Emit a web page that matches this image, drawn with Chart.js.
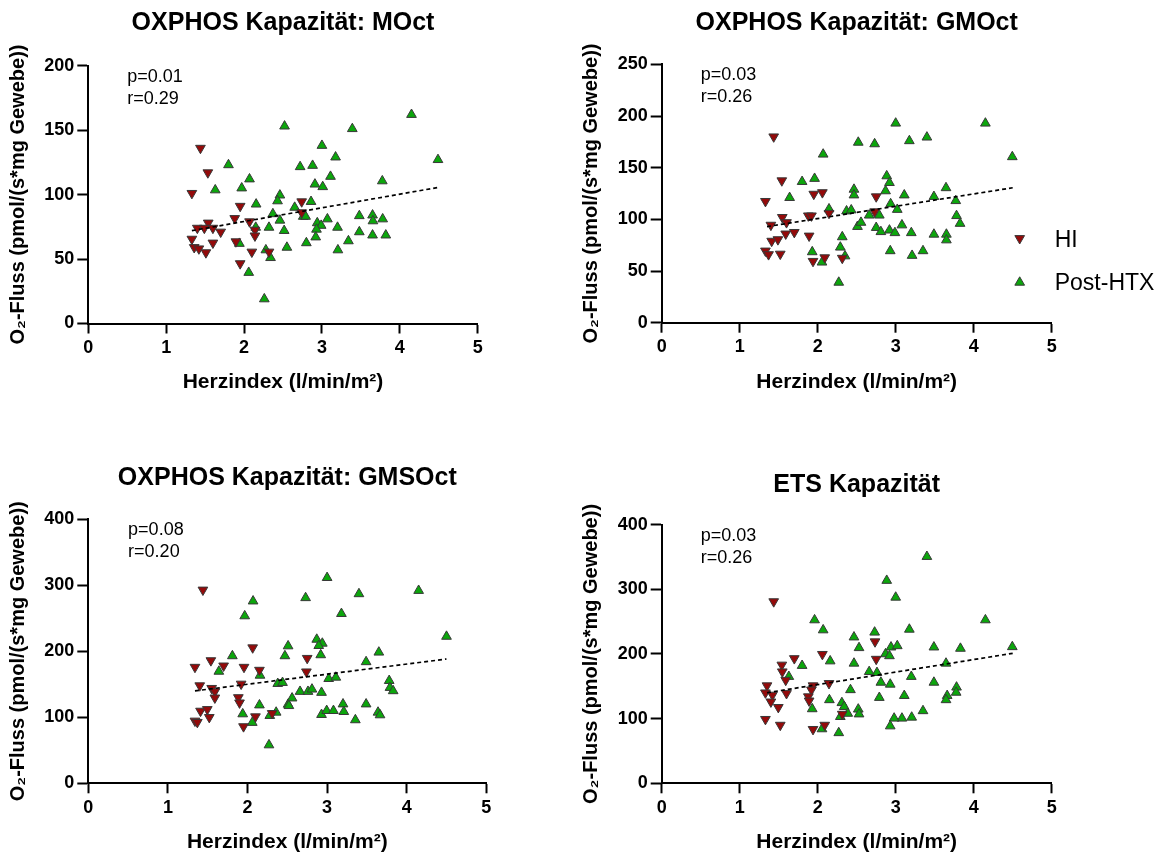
<!DOCTYPE html>
<html>
<head>
<meta charset="utf-8">
<script src="https://cdn.jsdelivr.net/npm/chart.js@4.4.1/dist/chart.umd.min.js"></script>
<style>
  body { margin: 0; background: #fff; width: 1162px; height: 857px; position: relative; overflow: hidden; }
  canvas { position: absolute; }
</style>
</head>
<body>
<canvas id="moct" width="566" height="420" style="left:0;top:0"></canvas>
<canvas id="gmoct" width="610" height="420" style="left:552px;top:0"></canvas>
<canvas id="gmsoct" width="575" height="417" style="left:0;top:440px"></canvas>
<canvas id="ets" width="610" height="417" style="left:552px;top:440px"></canvas>
<script>
// values, [Herzindex, O2-Fluss]
const titles = ["OXPHOS Kapazität: MOct", "OXPHOS Kapazität: GMOct", "OXPHOS Kapazität: GMSOct", "ETS Kapazität"];
const pValues = ["p=0.01", "p=0.03", "p=0.08", "p=0.03"];
const rValues = ["r=0.29", "r=0.26", "r=0.20", "r=0.26"];
const seriesNames = ["HI", "Post-HTX"];
const xTicks = [0, 1, 2, 3, 4, 5];
const yMax = [200, 250, 400, 400];
const yStep = [50, 50, 100, 100];

const hiMOct = [[1.44,136],[1.535,117],[1.33,101],[1.95,91],[1.88,81.5],[2.07,79],[1.54,78],[1.40,74],[1.49,74],[1.60,74],[1.70,71],[2.14,72.5],[2.14,68],[1.33,65.5],[1.60,62.5],[1.895,63.5],[1.36,59],[1.42,58],[1.51,55],[2.10,55.5],[2.32,55.5],[1.95,46.5],[2.74,94.5],[2.74,86]];
const htxMOct = [[2.52,153],[1.80,123],[2.07,112],[1.97,105],[1.63,103.5],[2.155,92.5],[2.46,99.5],[2.43,95],[2.37,85],[2.46,80],[2.15,74.5],[2.32,74.5],[2.515,72],[2.55,59],[1.94,62],[2.28,57],[2.34,51],[2.06,39.5],[2.26,19],
  [3.39,151],[4.15,162],[4.49,127],[3.0,138],[3.175,129],[2.72,121.5],[2.88,122.5],[3.11,114],[2.91,108],[3.01,106],[3.775,110.5],[2.65,90],[2.86,94.5],[2.76,83],[2.79,83],[2.94,78],[3.07,81],[2.99,76],[2.93,73],[3.20,74.5],[3.48,83.5],[3.65,84],[3.655,79.5],[3.78,81],[3.48,71],[3.65,68.5],[3.82,68.5],[2.92,67],[2.80,62.5],[3.34,64],[3.205,57]];
const fitMOct = [[1.33,72],[4.5,105.6]];

const hiGMOct = [[1.436,180],[1.54,137.5],[1.33,117.5],[1.95,124.5],[2.06,126],[1.88,103.5],[1.92,103.5],[2.145,106],[1.546,102],[1.60,97],[1.40,94.5],[1.59,86],[1.70,87.5],[1.89,84],[1.41,79],[1.49,80.5],[1.33,69.5],[1.37,66],[1.52,66.5],[1.94,59.5],[2.09,63],[2.315,62.5],[2.75,122],[2.73,107.5]];
const htxGMOct = [[2.52,174.5],[2.07,163],[1.80,136.5],[1.96,139.5],[1.64,121],[2.145,110],[2.465,129],[2.465,123.5],[2.37,108],[2.43,109],[2.51,93],[2.315,83],[2.29,73],[2.35,64.5],[1.93,68.5],[2.055,58.5],[2.27,39],
  [3.0,193],[4.15,193],[2.73,173],[3.175,176],[3.40,179.5],[4.495,160.5],[2.885,142],[2.92,135.5],[2.87,127.5],[3.11,123.5],[3.645,130.5],[3.49,122],[3.77,118],[2.935,115],[3.02,109.5],[2.66,104],[2.79,104],[3.78,103.5],[3.825,96],[2.555,97],[2.75,92],[2.81,88],[2.92,89.5],[2.99,87],[3.08,94.5],[3.20,87],[3.49,85.5],[3.65,85.5],[3.65,80],[2.93,69.5],[3.35,69.5],[3.21,65]];
const fitGMOct = [[1.35,93],[4.5,130.6]];

const hiGMSOct = [[1.44,293],[2.065,205.5],[1.54,186],[1.34,176],[1.70,178],[1.956,176],[2.15,171.5],[1.40,148],[1.55,144],[1.59,139],[1.59,129.5],[1.92,150.5],[1.885,130],[1.90,122],[1.41,109.5],[1.495,112],[1.52,100],[1.34,94.5],[1.37,92.5],[1.95,86],[2.10,101],[2.31,106],[2.75,189.5],[2.74,169]];
const htxGMSOct = [[2.07,276],[1.965,253.5],[1.81,193],[1.64,169.5],[2.157,163.5],[2.47,193],[2.51,208],[2.38,151],[2.44,152.5],[2.51,119.5],[2.15,118.5],[1.94,105],[2.06,92],[2.28,102.5],[2.36,107.5],[2.27,58],
  [3.0,311.5],[2.73,281],[3.40,287],[4.15,292],[3.18,257],[4.50,222.5],[2.87,218],[2.94,212],[2.895,208.5],[2.92,194.5],[3.65,198.5],[3.49,184],[3.02,158.5],[3.11,160.5],[3.78,155.5],[3.79,145],[3.83,140],[2.66,139],[2.76,139],[2.81,142.5],[2.93,137.5],[2.56,129],[2.52,117.5],[3.20,120],[3.21,108.5],[3.49,120],[2.93,104],[2.995,110],[3.08,110],[3.355,96],[3.64,107.5],[3.665,103.5]];
const fitGMSOct = [[1.34,140],[4.5,188.3]];

const hiETS = [[1.436,281],[1.70,193],[2.06,199.5],[1.54,183],[1.546,172.5],[1.59,159.5],[2.145,154.5],[1.94,151],[1.92,144.5],[1.35,151],[1.33,140],[1.42,136.5],[1.60,139],[1.88,134],[1.89,127.5],[1.40,126],[1.495,117.5],[1.33,99],[1.52,90],[1.94,83.5],[2.09,90],[2.315,107],[2.735,219],[2.75,192]];
const htxETS = [[1.96,252.5],[2.07,237],[2.465,226],[2.53,209.5],[2.16,189],[1.80,182],[2.465,185.5],[1.63,165],[2.42,144.5],[2.15,129],[1.93,115],[2.31,124.5],[2.34,118.5],[2.29,103],[2.385,108],[2.52,114.5],[2.53,107],[2.055,84],[2.27,78],
  [3.40,350.5],[2.885,313.5],[3.0,287.5],[4.15,252.5],[3.175,238],[2.73,233.5],[2.94,210.5],[3.02,212.5],[3.49,210.5],[3.83,208.5],[4.495,211],[2.87,200],[2.92,197],[2.66,172.5],[2.76,171],[3.20,165],[3.645,185.5],[2.81,156],[2.93,153],[3.49,156],[2.79,132.5],[3.11,135.5],[3.78,148.5],[3.775,140.5],[3.66,135.5],[3.645,129],[3.35,112],[3.205,102],[3.08,100.5],[2.98,100.5],[2.93,88.5]];
const fitETS = [[1.35,140],[4.5,201]];

const FONT = "'Liberation Sans', Arial, sans-serif";
const RED = "#940a0a";
const GREEN = "#0ca60c";
const EDGE = "#383838";
const MARK = 5.6;

const toXY = (pairs) => pairs.map(([x, y]) => ({ x, y }));

const drawMarker = (ctx, x, y, down, color) => {
  ctx.save();
  ctx.fillStyle = color;
  ctx.strokeStyle = EDGE;
  ctx.lineWidth = 1;
  if (Chart.helpers && Chart.helpers.drawPoint) {
    Chart.helpers.drawPoint(ctx, { pointStyle: "triangle", rotation: down ? 180 : 0, radius: MARK, borderWidth: 1 }, x, y);
  } else {
    const s = down ? -1 : 1;
    ctx.beginPath();
    ctx.moveTo(x, y - MARK * s);
    ctx.lineTo(x + MARK * 0.866, y + MARK * 0.5 * s);
    ctx.lineTo(x - MARK * 0.866, y + MARK * 0.5 * s);
    ctx.closePath();
    ctx.fill();
    ctx.stroke();
  }
  ctx.restore();
};

// p / r text in the upper left corner, plus the legend on the GMOct panel
const notes = {
  id: "notes",
  afterDraw(chart, args, opts) {
    const { ctx, chartArea, scales } = chart;
    ctx.save();
    ctx.fillStyle = "#000";
    ctx.textBaseline = "middle";
    ctx.textAlign = "left";
    ctx.font = "18px " + FONT;
    const x = scales.x.getPixelForValue(0.5);
    ctx.fillText(opts.p, x, chartArea.top + 11);
    ctx.fillText(opts.r, x, chartArea.top + 33);
    if (opts.legend) {
      ctx.font = "23px " + FONT;
      const mx = chartArea.right - 32;
      const tx = chartArea.right + 3;
      drawMarker(ctx, mx, chartArea.top + 174, true, RED);
      ctx.fillStyle = "#000";
      ctx.fillText(seriesNames[0], tx, chartArea.top + 176);
      drawMarker(ctx, mx, chartArea.top + 218, false, GREEN);
      ctx.fillStyle = "#000";
      ctx.fillText(seriesNames[1], tx, chartArea.top + 219);
    }
    ctx.restore();
  },
};

const makePanel = (id, i, hi, htx, fit, lay) => {
  const tickFont = { family: FONT, size: 18, weight: "bold" };
  new Chart(document.getElementById(id), {
    type: "scatter",
    data: {
      datasets: [
        {
          type: "line",
          data: toXY(fit),
          borderColor: "#000",
          borderWidth: 1.7,
          borderDash: [4, 3],
          pointRadius: 0,
          fill: false,
          order: 0,
        },
        {
          label: seriesNames[0],
          data: toXY(hi),
          pointStyle: "triangle",
          pointRotation: 180,
          pointRadius: MARK,
          backgroundColor: RED,
          borderColor: EDGE,
          borderWidth: 1,
          order: 1,
        },
        {
          label: seriesNames[1],
          data: toXY(htx),
          pointStyle: "triangle",
          pointRadius: MARK,
          backgroundColor: GREEN,
          borderColor: EDGE,
          borderWidth: 1,
          order: 2,
        },
      ],
    },
    options: {
      responsive: false,
      animation: false,
      devicePixelRatio: 1,
      layout: { padding: lay.pad },
      plugins: {
        legend: { display: false },
        tooltip: { enabled: false },
        title: {
          display: true,
          fullSize: false,
          text: titles[i],
          color: "#000",
          font: { family: FONT, size: 25, weight: "bold" },
          padding: { top: 0, bottom: lay.titleGap },
        },
        notes: { p: pValues[i], r: rValues[i], legend: lay.legend },
      },
      scales: {
        x: {
          type: "linear",
          min: xTicks[0],
          max: xTicks[xTicks.length - 1],
          afterBuildTicks: (s) => { s.ticks = xTicks.map((v) => ({ value: v })); },
          ticks: { color: "#000", font: tickFont, padding: 4 },
          grid: { drawOnChartArea: false, tickLength: 10, tickWidth: 2, tickColor: "#000" },
          border: { color: "#000", width: 2 },
          title: {
            display: true,
            text: "Herzindex (l/min/m²)",
            color: "#000",
            font: { family: FONT, size: 21, weight: "bold" },
            padding: { top: 0, bottom: lay.xTitleGap },
          },
          afterFit: (s) => { s.height = lay.xH; },
        },
        y: {
          min: 0,
          max: yMax[i],
          ticks: { stepSize: yStep[i], color: "#000", font: tickFont, padding: 3 },
          grid: { drawOnChartArea: false, tickLength: 11, tickWidth: 2, tickColor: "#000" },
          border: { color: "#000", width: 2 },
          title: {
            display: true,
            text: "O₂-Fluss (pmol/(s*mg Gewebe))",
            color: "#000",
            font: { family: FONT, size: 20, weight: "bold" },
            padding: { top: lay.yTitlePad, bottom: 0 },
          },
          afterFit: (s) => { s.width = lay.yW; },
        },
      },
    },
    plugins: [notes],
  });
};

makePanel("moct", 0, hiMOct, htxMOct, fitMOct, {
  pad: { left: 0, right: 88.3, top: 8.6, bottom: 0 },
  titleGap: 27, xH: 96.5, xTitleGap: 25.4, yW: 88.3, yTitlePad: 6, legend: false,
});
makePanel("gmoct", 1, hiGMOct, htxGMOct, fitGMOct, {
  pad: { left: 0, right: 110.3, top: 8.6, bottom: 0 },
  titleGap: 25.8, xH: 97.3, xTitleGap: 25.4, yW: 109.7, yTitlePad: 27, legend: true,
});
makePanel("gmsoct", 2, hiGMSOct, htxGMSOct, fitGMSOct, {
  pad: { left: 0, right: 88.7, top: 23.1, bottom: 0 },
  titleGap: 26.2, xH: 73.7, xTitleGap: 2.4, yW: 88.3, yTitlePad: 6, legend: false,
});
makePanel("ets", 3, hiETS, htxETS, fitETS, {
  pad: { left: 0, right: 110.3, top: 30.1, bottom: 0 },
  titleGap: 24.5, xH: 73.7, xTitleGap: 2.4, yW: 109.7, yTitlePad: 27, legend: false,
});
</script>
</body>
</html>
